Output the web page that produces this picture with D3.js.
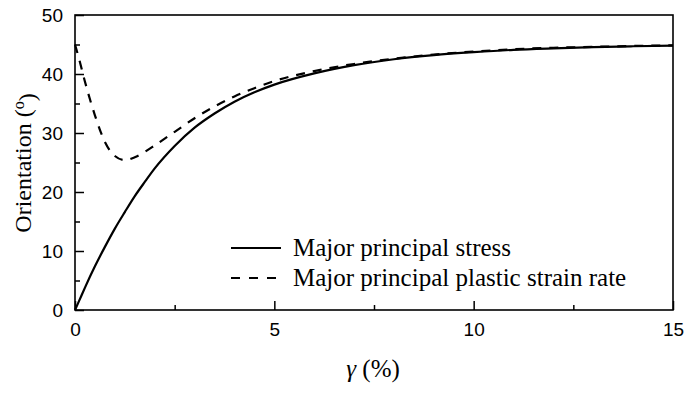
<!DOCTYPE html>
<html>
<head>
<meta charset="utf-8">
<script src="https://d3js.org/d3.v7.min.js"></script>
<style>
  body { margin: 0; background: #fff; }
  #chart svg { display: block; }
</style>
</head>
<body>
<div id="chart"></div>
<script>
///////////////////////////////////////////////
// Data ///////////////////////////////////////
///////////////////////////////////////////////

var gamma = [0, 0.1, 0.25, 0.5, 0.75, 1.0, 1.25, 1.5, 1.75, 2.0, 2.5, 3.0, 3.5, 4.0, 4.5, 5.0,
             6.0, 7.0, 8.0, 9.0, 10, 11, 12, 13, 14, 15];

var stress = [0, 1.5, 3.8, 7.4, 10.7, 13.8, 16.6, 19.3, 21.7, 24.0, 27.8, 30.9, 33.3, 35.3, 36.9, 38.2,
              40.1, 41.5, 42.5, 43.2, 43.7, 44.1, 44.35, 44.55, 44.7, 44.8];

var strainRate = [45.0, 42.6, 38.7, 33.0, 28.5, 26.1, 25.4, 25.9, 26.8, 27.9, 30.2, 32.5, 34.5, 36.2, 37.6, 38.8,
                  40.5, 41.7, 42.6, 43.3, 43.8, 44.2, 44.45, 44.6, 44.75, 44.85];

var xTicks = [0, 5, 10, 15];
var xMinorTicks = [2.5, 7.5, 12.5];
var yTicks = [0, 10, 20, 30, 40, 50];
var yMinorTicks = [5, 15, 25, 35, 45];

var legendText = ["Major principal stress", "Major principal plastic strain rate"];

///////////////////////////////////////////////
// Graph parameters ///////////////////////////
///////////////////////////////////////////////

var W = 688, H = 394;
var margin = { top: 15, left: 75, right: 15, bottom: 84 };
var width = W - margin.left - margin.right;
var height = H - margin.top - margin.bottom;

var svg = d3.select("#chart").append("svg")
    .attr("width", W)
    .attr("height", H);

var g = svg.append("g")
    .attr("transform", "translate(" + margin.left + "," + margin.top + ")");

///////////////////////////////////////////////
// Scales /////////////////////////////////////
///////////////////////////////////////////////

var x = d3.scaleLinear().domain([0, 15]).range([0, width]);
var y = d3.scaleLinear().domain([0, 50]).range([height, 0]);

///////////////////////////////////////////////
// Axes ///////////////////////////////////////
///////////////////////////////////////////////

var tickFont = "19px 'Liberation Sans', Arial, sans-serif";

function xAxisMajor(sel) {
  sel.call(d3.axisBottom(x).tickValues(xTicks).tickSize(-9).tickPadding(13).tickFormat(d3.format("d")));
  sel.select(".domain").remove();
  sel.selectAll(".tick line").attr("stroke", "#000").attr("stroke-width", 1.5);
  sel.selectAll(".tick text").style("font", tickFont).attr("fill", "#000");
}

function yAxisMajor(sel) {
  sel.call(d3.axisLeft(y).tickValues(yTicks).tickSize(-9).tickPadding(12).tickFormat(d3.format("d")));
  sel.select(".domain").remove();
  sel.selectAll(".tick line").attr("stroke", "#000").attr("stroke-width", 1.5);
  sel.selectAll(".tick text").style("font", tickFont).attr("fill", "#000");
}

g.append("g")
  .attr("transform", "translate(0," + height + ")")
  .call(xAxisMajor);

g.append("g")
  .call(yAxisMajor);

// minor ticks
var xMinor = g.append("g")
  .attr("transform", "translate(0," + height + ")")
  .call(d3.axisBottom(x).tickValues(xMinorTicks).tickSize(-5).tickFormat(""));
xMinor.select(".domain").remove();
xMinor.selectAll(".tick line").attr("stroke", "#000").attr("stroke-width", 1.5);

var yMinor = g.append("g")
  .call(d3.axisLeft(y).tickValues(yMinorTicks).tickSize(-5).tickFormat(""));
yMinor.select(".domain").remove();
yMinor.selectAll(".tick line").attr("stroke", "#000").attr("stroke-width", 1.5);

// frame
g.append("rect")
  .attr("x", 0)
  .attr("y", 0)
  .attr("width", width)
  .attr("height", height)
  .attr("fill", "none")
  .attr("stroke", "#000")
  .attr("stroke-width", 1.6);

// Axis titles
var labelFont = "'Liberation Serif', 'Times New Roman', serif";

var xTitle = svg.append("text")
  .attr("x", margin.left + x(7.5) - 1)
  .attr("y", 377)
  .attr("text-anchor", "middle")
  .style("font-family", labelFont)
  .style("font-size", "25px")
  .attr("fill", "#000");
xTitle.append("tspan").style("font-style", "italic").text("γ");
xTitle.append("tspan").text(" (%)");

var yTitle = svg.append("text")
  .attr("transform", "translate(31," + 163 + ") rotate(-90)")
  .attr("text-anchor", "middle")
  .style("font-family", labelFont)
  .style("font-size", "24px")
  .attr("fill", "#000");
yTitle.append("tspan").text("Orientation (");
yTitle.append("tspan").attr("dy", "-0.45em").style("font-size", "16px").text("o");
yTitle.append("tspan").attr("dy", "0.45em").text(")");

///////////////////////////////////////////////
// Lines //////////////////////////////////////
///////////////////////////////////////////////

var line = d3.line()
    .x(function(d, i) { return x(gamma[i]); })
    .y(function(d) { return y(d); })
    .curve(d3.curveMonotoneX);

g.append("path")
  .datum(stress)
  .attr("fill", "none")
  .attr("stroke", "#000")
  .attr("stroke-width", 2.2)
  .attr("d", line);

g.append("path")
  .datum(strainRate)
  .attr("fill", "none")
  .attr("stroke", "#000")
  .attr("stroke-width", 2.2)
  .attr("stroke-dasharray", "9,8")
  .attr("d", line);

///////////////////////////////////////////////
// Legend /////////////////////////////////////
///////////////////////////////////////////////

var legend = svg.append("g")
  .selectAll("g")
  .data(legendText)
  .enter().append("g")
  .attr("transform", function(d, i) { return "translate(231," + (248 + i * 30) + ")"; });

legend.append("line")
  .attr("x1", 0)
  .attr("x2", 50)
  .attr("stroke", "#000")
  .attr("stroke-width", 2.2)
  .attr("stroke-dasharray", function(d, i) { return i === 0 ? null : "9,9"; });

legend.append("text")
  .attr("x", 62)
  .attr("y", 8)
  .style("font-family", labelFont)
  .style("font-size", "25px")
  .attr("fill", "#000")
  .text(function(d) { return d; });
</script>
</body>
</html>
